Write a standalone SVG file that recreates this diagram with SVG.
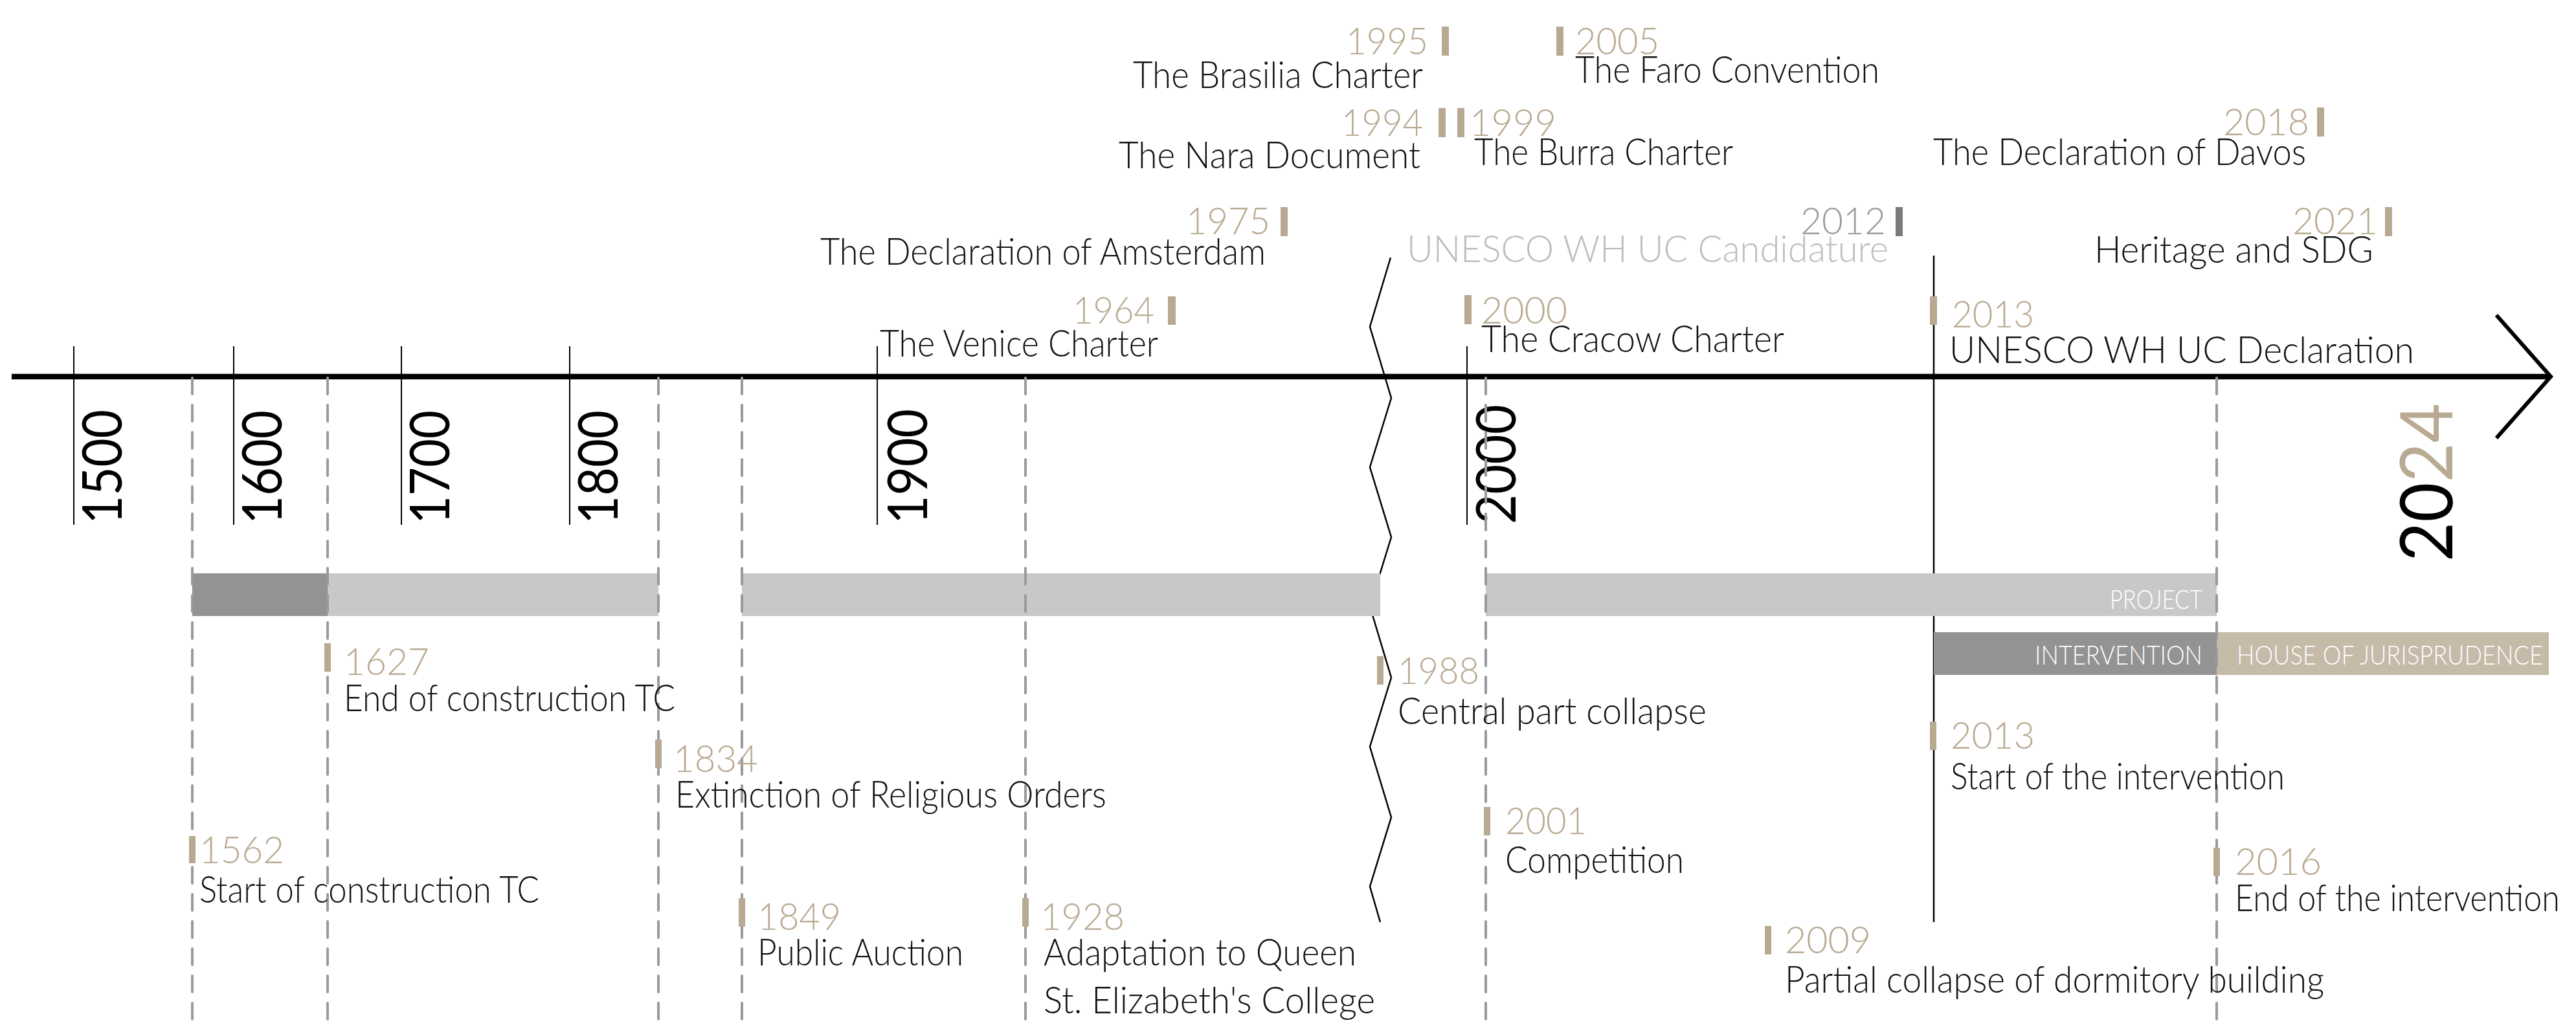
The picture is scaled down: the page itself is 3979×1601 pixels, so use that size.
<svg xmlns="http://www.w3.org/2000/svg" width="3979" height="1601" viewBox="0 0 3979 1601">
<style>
text{font-family:Lato,'Open Sans','Liberation Sans',sans-serif;}
.ev{font-weight:300;font-size:58px;fill:#111;}
.yr{font-weight:300;font-size:58px;fill:#b9aa93;}
.mk{fill:#b8a992;}
.cent{font-weight:400;font-size:86px;fill:#000;}
.bl{font-weight:300;font-size:41px;fill:#fff;}
.tick{stroke:#000;stroke-width:2;}
.dash{stroke:#9a9a9e;stroke-width:4;stroke-dasharray:25 17;stroke-linecap:round;fill:none;}
</style>
<rect width="3979" height="1601" fill="#fff"/>
<g id="axis">
<line x1="18" y1="582" x2="3938" y2="582" stroke="#000" stroke-width="8.5"/>
<polyline points="3856,487 3940,582 3856,677" fill="none" stroke="#000" stroke-width="6"/>
<line class="tick" x1="114" y1="535" x2="114" y2="811"/>
<line class="tick" x1="361" y1="535" x2="361" y2="811"/>
<line class="tick" x1="620" y1="535" x2="620" y2="811"/>
<line class="tick" x1="880" y1="535" x2="880" y2="811"/>
<line class="tick" x1="1355" y1="535" x2="1355" y2="811"/>
<line class="tick" x1="2266" y1="535" x2="2266" y2="811"/>
<text class="cent" transform="translate(188,810) rotate(-90)" textLength="177" lengthAdjust="spacingAndGlyphs">1500</text>
<text class="cent" transform="translate(435,810) rotate(-90)" textLength="176" lengthAdjust="spacingAndGlyphs">1600</text>
<text class="cent" transform="translate(694,810) rotate(-90)" textLength="176" lengthAdjust="spacingAndGlyphs">1700</text>
<text class="cent" transform="translate(954,810) rotate(-90)" textLength="176" lengthAdjust="spacingAndGlyphs">1800</text>
<text class="cent" transform="translate(1432,810) rotate(-90)" textLength="178" lengthAdjust="spacingAndGlyphs">1900</text>
<text class="cent" transform="translate(2341,810) rotate(-90)" textLength="185" lengthAdjust="spacingAndGlyphs">2000</text>
<text class="cent" transform="translate(3788,868) rotate(-90)" style="font-size:112px" textLength="245" lengthAdjust="spacingAndGlyphs">20<tspan fill="#b9aa93">24</tspan></text>
<line x1="2987" y1="395" x2="2987" y2="1425" stroke="#000" stroke-width="2.5"/>
<polyline points="2148,398 2116,505 2149,615 2116,722 2149,830 2116,937 2149,1047 2116,1154 2149,1263 2116,1370 2132,1425" fill="none" stroke="#000" stroke-width="2.5"/>
</g>
<g id="bars">
<rect x="297" y="886" width="209" height="66" fill="#939393"/>
<rect x="506" y="886" width="511" height="66" fill="#c8c8c8"/>
<rect x="1146" y="886" width="986" height="66" fill="#c8c8c8"/>
<rect x="2295" y="886" width="1129" height="66" fill="#c8c8c8"/>
<text class="bl" x="3259" y="941" textLength="143" lengthAdjust="spacingAndGlyphs">PROJECT</text>
<rect x="2987" y="977" width="437" height="66" fill="#939393"/>
<text class="bl" x="3143" y="1027" textLength="259" lengthAdjust="spacingAndGlyphs">INTERVENTION</text>
<rect x="3424" y="977" width="513" height="66" fill="#c6baa9"/>
<text class="bl" x="3455" y="1027" textLength="473" lengthAdjust="spacingAndGlyphs">HOUSE OF JURISPRUDENCE</text>
</g>
<g id="connectors">
<line class="dash" x1="297" y1="584" x2="297" y2="1577"/>
<line class="dash" x1="506" y1="584" x2="506" y2="1577"/>
<line class="dash" x1="1017" y1="584" x2="1017" y2="1577"/>
<line class="dash" x1="1146" y1="584" x2="1146" y2="1577"/>
<line class="dash" x1="1584" y1="584" x2="1584" y2="1577"/>
<line class="dash" x1="2295" y1="584" x2="2295" y2="1577"/>
<line class="dash" x1="3424" y1="584" x2="3424" y2="1577"/>
</g>
<g id="e1995"><text class="yr" x="2079" y="84" textLength="127" lengthAdjust="spacingAndGlyphs">1995</text><rect class="mk" x="2227" y="41" width="11" height="45"/><text class="ev" x="1750" y="136" textLength="448" lengthAdjust="spacingAndGlyphs">The Brasilia Charter</text></g>
<g id="e2005"><rect class="mk" x="2404" y="41" width="11" height="45"/><text class="yr" x="2433" y="84" textLength="130" lengthAdjust="spacingAndGlyphs">2005</text><text class="ev" x="2433" y="128" textLength="470" lengthAdjust="spacingAndGlyphs">The Faro Convention</text></g>
<g id="e1994"><text class="yr" x="2072" y="210" textLength="126" lengthAdjust="spacingAndGlyphs">1994</text><rect class="mk" x="2222" y="167" width="11" height="45"/><text class="ev" x="1728" y="260" textLength="466" lengthAdjust="spacingAndGlyphs">The Nara Document</text></g>
<g id="e1999"><rect class="mk" x="2251" y="167" width="11" height="45"/><text class="yr" x="2270" y="210" textLength="134" lengthAdjust="spacingAndGlyphs">1999</text><text class="ev" x="2277" y="255" textLength="400" lengthAdjust="spacingAndGlyphs">The Burra Charter</text></g>
<g id="e2018"><text class="yr" x="3434" y="209" textLength="133" lengthAdjust="spacingAndGlyphs">2018</text><rect class="mk" x="3579" y="166" width="11" height="45"/><text class="ev" x="2986" y="255" textLength="576" lengthAdjust="spacingAndGlyphs">The Declaration of Davos</text></g>
<g id="e1975"><text class="yr" x="1832" y="362" textLength="130" lengthAdjust="spacingAndGlyphs">1975</text><rect class="mk" x="1978" y="320" width="11" height="45"/><text class="ev" x="1267" y="409" textLength="688" lengthAdjust="spacingAndGlyphs">The Declaration of Amsterdam</text></g>
<g id="e2012"><text class="yr" x="2781" y="362" textLength="132" lengthAdjust="spacingAndGlyphs" style="fill:#9b9b9b">2012</text><rect x="2928" y="320" width="11" height="45" fill="#7a7a7a"/><text class="ev" x="2173" y="405" textLength="744" lengthAdjust="spacingAndGlyphs" style="fill:#bdbdbd">UNESCO WH UC Candidature</text></g>
<g id="e2021"><text class="yr" x="3541" y="362" textLength="132" lengthAdjust="spacingAndGlyphs">2021</text><rect class="mk" x="3684" y="320" width="11" height="45"/><text class="ev" x="3235" y="406" textLength="431" lengthAdjust="spacingAndGlyphs">Heritage and SDG</text></g>
<g id="e1964"><text class="yr" x="1657" y="500" textLength="126" lengthAdjust="spacingAndGlyphs">1964</text><rect class="mk" x="1804" y="458" width="12" height="44"/><text class="ev" x="1359" y="551" textLength="430" lengthAdjust="spacingAndGlyphs">The Venice Charter</text></g>
<g id="e2000"><rect class="mk" x="2262" y="456" width="11" height="45"/><text class="yr" x="2288" y="500" textLength="133" lengthAdjust="spacingAndGlyphs">2000</text><text class="ev" x="2288" y="544" textLength="468" lengthAdjust="spacingAndGlyphs">The Cracow Charter</text></g>
<g id="e2013a"><rect class="mk" x="2981" y="458" width="11" height="44"/><text class="yr" x="3015" y="506" textLength="127" lengthAdjust="spacingAndGlyphs">2013</text><text class="ev" x="3011" y="561" textLength="718" lengthAdjust="spacingAndGlyphs">UNESCO WH UC Declaration</text></g>
<g id="e1627"><rect class="mk" x="501" y="994" width="10" height="44"/><text class="yr" x="531" y="1043" textLength="132" lengthAdjust="spacingAndGlyphs">1627</text><text class="ev" x="531" y="1099" textLength="512" lengthAdjust="spacingAndGlyphs">End of construction TC</text></g>
<g id="e1834"><rect class="mk" x="1012" y="1143" width="10" height="44"/><text class="yr" x="1040" y="1193" textLength="131" lengthAdjust="spacingAndGlyphs">1834</text><text class="ev" x="1043" y="1248" textLength="666" lengthAdjust="spacingAndGlyphs">Extinction of Religious Orders</text></g>
<g id="e1562"><rect class="mk" x="292" y="1292" width="10" height="42"/><text class="yr" x="308" y="1334" textLength="131" lengthAdjust="spacingAndGlyphs">1562</text><text class="ev" x="308" y="1395" textLength="525" lengthAdjust="spacingAndGlyphs">Start of construction TC</text></g>
<g id="e1849"><rect class="mk" x="1141" y="1388" width="10" height="44"/><text class="yr" x="1170" y="1437" textLength="129" lengthAdjust="spacingAndGlyphs">1849</text><text class="ev" x="1170" y="1492" textLength="318" lengthAdjust="spacingAndGlyphs">Public Auction</text></g>
<g id="e1928"><rect class="mk" x="1579" y="1388" width="10" height="44"/><text class="yr" x="1607" y="1437" textLength="130" lengthAdjust="spacingAndGlyphs">1928</text><text class="ev" x="1612" y="1492" textLength="483" lengthAdjust="spacingAndGlyphs">Adaptation to Queen</text><text class="ev" x="1612" y="1566" textLength="512" lengthAdjust="spacingAndGlyphs">St. Elizabeth's College</text></g>
<g id="e1988"><rect class="mk" x="2127" y="1014" width="10" height="44"/><text class="yr" x="2159" y="1057" textLength="126" lengthAdjust="spacingAndGlyphs">1988</text><text class="ev" x="2159" y="1119" textLength="477" lengthAdjust="spacingAndGlyphs">Central part collapse</text></g>
<g id="e2001"><rect class="mk" x="2292" y="1247" width="10" height="44"/><text class="yr" x="2325" y="1289" textLength="126" lengthAdjust="spacingAndGlyphs">2001</text><text class="ev" x="2325" y="1349" textLength="276" lengthAdjust="spacingAndGlyphs">Competition</text></g>
<g id="e2013b"><rect class="mk" x="2981" y="1115" width="10" height="44"/><text class="yr" x="3013" y="1157" textLength="130" lengthAdjust="spacingAndGlyphs">2013</text><text class="ev" x="3013" y="1220" textLength="516" lengthAdjust="spacingAndGlyphs">Start of the intervention</text></g>
<g id="e2016"><rect class="mk" x="3419" y="1310" width="10" height="44"/><text class="yr" x="3452" y="1352" textLength="134" lengthAdjust="spacingAndGlyphs">2016</text><text class="ev" x="3452" y="1408" textLength="502" lengthAdjust="spacingAndGlyphs">End of the intervention</text></g>
<g id="e2009"><rect class="mk" x="2726" y="1431" width="10" height="44"/><text class="yr" x="2757" y="1473" textLength="133" lengthAdjust="spacingAndGlyphs">2009</text><text class="ev" x="2757" y="1534" textLength="833" lengthAdjust="spacingAndGlyphs">Partial collapse of dormitory building</text></g>
</svg>
